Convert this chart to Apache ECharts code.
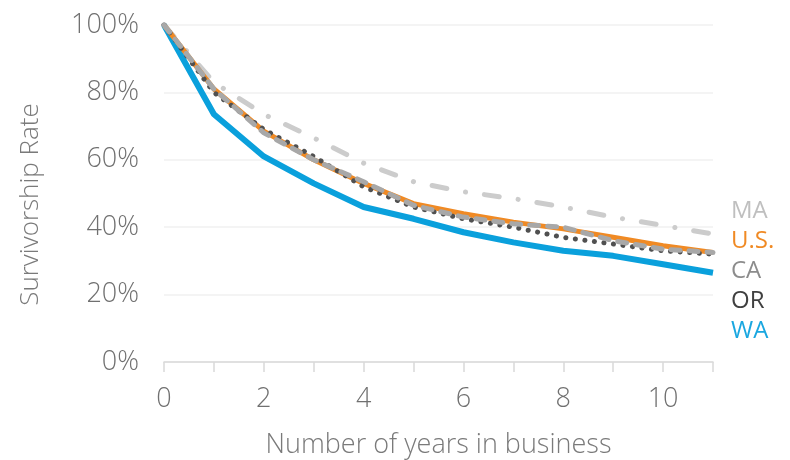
<!DOCTYPE html>
<html>
<head>
<meta charset="utf-8">
<script src="https://cdn.jsdelivr.net/npm/echarts@6/dist/echarts.min.js"></script>
<style>html,body{margin:0;padding:0;background:#fff;}#c{width:790px;height:460px;}</style>
</head>
<body>
<div id="c"></div>
<script>
var years = ['0','1','2','3','4','5','6','7','8','9','10','11'];
var MA = [100, 83, 73.5, 66.5, 59, 53.5, 50.5, 48.5, 46, 43, 40.5, 38];
var US = [100, 81, 68.5, 60, 53, 47, 44, 41.5, 39.5, 37, 34.5, 32.5];
var CA = [100, 81, 68, 60, 53.5, 46.5, 43, 41, 40, 36, 33.5, 32.5];
var OR = [100, 80, 69, 61, 52, 46, 42.5, 40, 37, 35, 33, 32];
var WA = [100, 73.5, 61, 53, 46, 42.5, 38.5, 35.5, 33, 31.5, 29, 26.5];

var FONT = 'Open Sans';
var FW = 300;
var chart = echarts.init(document.getElementById('c'));
chart.setOption({
  animation: false,
  grid: {left: 164, right: 77, top: 25, bottom: 98, containLabel: false, outerBoundsMode: 'none'},
  legend: {
    orient: 'vertical', left: 726, top: 194, itemGap: 6,
    icon: 'none', itemWidth: 0, itemHeight: 0,
    selectedMode: false,
    textStyle: {fontFamily: FONT, fontWeight: 'normal', fontSize: 24, padding: [0,0,0,-6]},
    data: [
      {name: 'MA', textStyle: {color: '#bfbfbf'}},
      {name: 'U.S.', textStyle: {color: '#f08a24'}},
      {name: 'CA', textStyle: {color: '#8c8c8c'}},
      {name: 'OR', textStyle: {color: '#404040'}},
      {name: 'WA', textStyle: {color: '#1aa7e0'}}
    ]
  },
  xAxis: {
    type: 'category', data: years, boundaryGap: false,
    name: 'Number of years in business', nameLocation: 'middle', nameGap: 70,
    nameTextStyle: {fontFamily: FONT, fontWeight: FW, fontSize: 27, color: '#7a7a7a'},
    axisLine: {lineStyle: {color: '#d9d9d9', width: 1.5}},
    axisTick: {interval: 0, length: 10, lineStyle: {color: '#d9d9d9', width: 1.5}},
    axisLabel: {interval: 1, margin: 24, fontFamily: FONT, fontWeight: FW, fontSize: 27, color: '#707070'},
    splitLine: {show: false}
  },
  yAxis: {
    type: 'value', min: 0, max: 100, interval: 20,
    name: 'Survivorship Rate', nameLocation: 'middle', nameGap: 120,
    nameTextStyle: {fontFamily: FONT, fontWeight: FW, fontSize: 26, color: '#7a7a7a', padding: [0, 22, 0, 0]},
    axisLine: {show: false}, axisTick: {show: false},
    axisLabel: {formatter: '{value}%', margin: 25, fontFamily: FONT, fontWeight: FW, fontSize: 27, color: '#707070'},
    splitLine: {lineStyle: {color: '#f0f0f0', width: 1.5}}
  },
  series: [
    {name: 'WA', type: 'line', data: WA, symbol: 'none', z: 2,
     lineStyle: {color: '#0aa0dc', width: 6}},
    {name: 'MA', type: 'line', data: MA, symbol: 'none', z: 3,
     lineStyle: {color: '#cccccc', width: 5, type: [15, 19, 0.1, 19], cap: 'round'}},
    {name: 'U.S.', type: 'line', data: US, symbol: 'none', z: 4,
     lineStyle: {color: '#f08a24', width: 5}},
    {name: 'OR', type: 'line', data: OR, symbol: 'none', z: 5,
     lineStyle: {color: '#505050', width: 5, type: [0.1, 9.5], cap: 'round'}},
    {name: 'CA', type: 'line', data: CA, symbol: 'none', z: 6,
     lineStyle: {color: '#a8a8a8', width: 5, type: [9, 9], cap: 'round'}}
  ]
});
</script>
</body>
</html>
